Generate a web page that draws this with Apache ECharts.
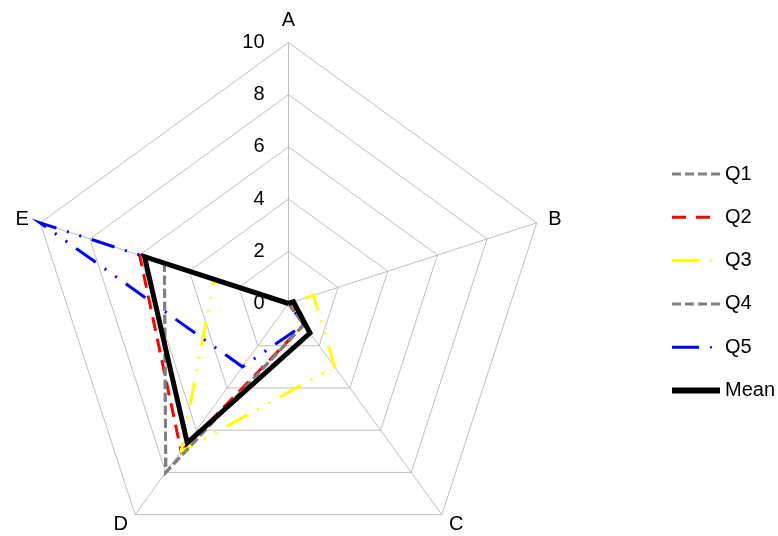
<!DOCTYPE html>
<html>
<head>
<meta charset="utf-8">
<title>Radar</title>
<script src="https://cdn.jsdelivr.net/npm/echarts@6/dist/echarts.min.js"></script>
<style>
    html, body { margin: 0; padding: 0; background: #fff; }
    #chart { width: 778px; height: 536px; }
</style>
</head>
<body>
<div id="chart"></div>
<script>
// axes, clockwise from the top
var categories = ['A', 'B', 'C', 'D', 'E'];
var axisMax = 10;

// values (A..E)
var q1 = [0, 0, 1, 8, 5];
var q2 = [0, 0, 1, 7, 6];
var q3 = [0, 1, 3, 7, 3];
var q4 = [0, 0, 1, 8, 5];
var q5 = [0, 0, 1, 3, 10];
var mean = [0, 0.2, 1.4, 6.6, 5.8];

var seriesNames = ['Q1', 'Q2', 'Q3', 'Q4', 'Q5', 'Mean'];

(function () {
    var font = 'Arial, "Liberation Sans", sans-serif';
    var chart = echarts.init(document.getElementById('chart'), null, {renderer: 'canvas'});

    // echarts lays radar axes out counter-clockwise, so walk A, E, D, C, B
    var order = [0, 4, 3, 2, 1];
    var reorder = function (arr) {
        return order.map(function (i) { return arr[i]; });
    };

    // thin invisible slivers keep every legend icon the same box
    var box = 'M0,0h0.01v8h-0.01z M47.99,0h0.01v8h-0.01z ';
    var icons = {
        gray: 'path://' + box + 'M0,2.5h9v3h-9z M13,2.5h9v3h-9z M26,2.5h9v3h-9z M39,2.5h9v3h-9z',
        red: 'path://' + box + 'M0,2.5h14v3h-14z M24,2.5h14v3h-14z',
        dashDot: 'path://' + box + 'M0,2.5h27v3h-27z M38,3h2v2h-2z',
        solid: 'path://' + box + 'M0,1h48v6h-48z'
    };

    var styles = {
        Q1: {color: '#808080', width: 3, type: [9, 4], icon: icons.gray},
        Q2: {color: '#ff0000', width: 3, type: [14, 8], icon: icons.red},
        Q3: {color: '#ffff00', width: 3, type: [24, 11, 2, 11, 2, 11], icon: icons.dashDot},
        Q4: {color: '#808080', width: 3, type: [9, 4], icon: icons.gray},
        Q5: {color: '#0000ff', width: 3, type: [24, 11, 2, 11, 2, 11], icon: icons.dashDot},
        Mean: {color: '#000000', width: 5, type: 'solid', icon: icons.solid}
    };
    var values = {Q1: q1, Q2: q2, Q3: q3, Q4: q4, Q5: q5, Mean: mean};

    var indicator = reorder(categories).map(function (c, i) {
        var ind = {name: c, min: 0, max: axisMax};
        if (i === 0) {
            ind.axisLabel = {show: true, color: '#000', fontSize: 20, fontFamily: font, margin: 24};
        }
        return ind;
    });

    var series = seriesNames.map(function (n) {
        var s = styles[n];
        return {
            type: 'radar',
            name: n,
            symbol: 'none',
            silent: true,
            itemStyle: {color: s.color},
            lineStyle: {color: s.color, width: s.width, type: s.type, cap: 'butt', join: 'miter'},
            data: [{name: n, value: reorder(values[n])}]
        };
    });

    var option = {
        animation: false,
        backgroundColor: '#fff',
        legend: {
            orient: 'vertical',
            left: 667,
            top: 159,
            itemWidth: 48,
            itemHeight: 8,
            itemGap: 23.3,
            selectedMode: false,
            itemStyle: {borderWidth: 0},
            textStyle: {color: '#000', fontSize: 20, fontFamily: font, lineHeight: 18},
            data: seriesNames.map(function (n) {
                return {name: n, icon: styles[n].icon};
            })
        },
        radar: {
            center: [288.5, 303.5],
            radius: 261,
            startAngle: 90,
            shape: 'polygon',
            splitNumber: 5,
            indicator: indicator,
            nameGap: 12,
            axisName: {color: '#000', fontSize: 20, fontFamily: font},
            axisLine: {lineStyle: {color: '#bfbfbf', width: 1}},
            splitLine: {lineStyle: {color: '#bfbfbf', width: 1}},
            splitArea: {show: false},
            axisTick: {show: false},
            axisLabel: {show: false}
        },
        series: series
    };

    chart.setOption(option);
})();
</script>
</body>
</html>
